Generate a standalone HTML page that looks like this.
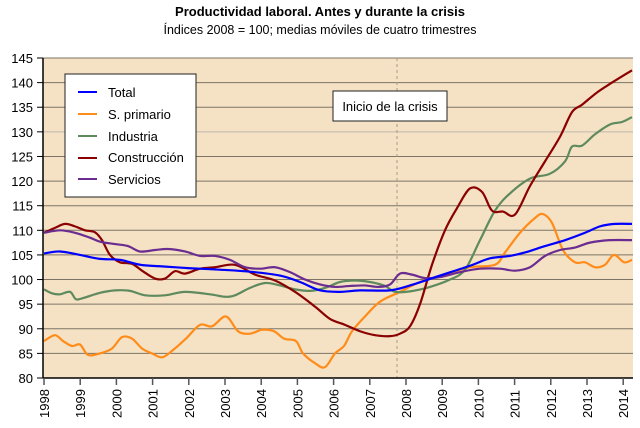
<!DOCTYPE html>
<html><head><meta charset="utf-8"><style>
body{margin:0;background:#fff;width:640px;height:428px;overflow:hidden}
svg{display:block;font-family:"Liberation Sans",Arial,sans-serif}
</style></head><body>
<svg id="s" width="640" height="428" xmlns="http://www.w3.org/2000/svg">
<text x="320" y="16" text-anchor="middle" font-size="13" font-weight="bold">Productividad laboral. Antes y durante la crisis</text>
<text x="320" y="34" text-anchor="middle" font-size="12.5">Índices 2008 = 100; medias móviles de cuatro trimestres</text>
<rect x="43" y="58" width="590" height="320" fill="#f5e2c4"/>
<g id="grid"></g>
<line x1="397" y1="58" x2="397" y2="378" stroke="#a89a88" stroke-dasharray="3,3" stroke-width="1"/>
<g id="lines" fill="none" stroke-width="2.2" stroke-linejoin="round"></g>
<line x1="43" y1="58" x2="43" y2="378" stroke="#000" stroke-width="1.5"/>
<line x1="43" y1="378" x2="633" y2="378" stroke="#000" stroke-width="1.5"/>
<rect x="65" y="74" width="131" height="123" fill="#fff" stroke="#222" stroke-width="1"/>
<g font-size="13">
<line x1="78" y1="92" x2="97" y2="92" stroke="#0000ff" stroke-width="2"/><text x="108" y="97">Total</text>
<line x1="78" y1="114" x2="97" y2="114" stroke="#ff8c1a" stroke-width="2"/><text x="108" y="119">S. primario</text>
<line x1="78" y1="136" x2="97" y2="136" stroke="#5e8a5e" stroke-width="2"/><text x="108" y="141">Industria</text>
<line x1="78" y1="158" x2="97" y2="158" stroke="#8b0000" stroke-width="2"/><text x="108" y="162">Construcción</text>
<line x1="78" y1="179" x2="97" y2="179" stroke="#6a2c91" stroke-width="2"/><text x="108" y="184">Servicios</text>
</g>
<rect x="333" y="91" width="114" height="30" fill="#fff" stroke="#222" stroke-width="1"/>
<text x="390" y="111" text-anchor="middle" font-size="13">Inicio de la crisis</text>
<g id="ax" font-size="13"></g>
</svg>
<script>
var ns="http://www.w3.org/2000/svg";
function Y(v){return 378-(v-80)*320/65;}
function el(p,t,a,txt){var e=document.createElementNS(ns,t);for(var k in a)e.setAttribute(k,a[k]);if(txt)e.textContent=txt;document.getElementById(p).appendChild(e);}
for(var v=80;v<=145;v+=5){var y=Y(v);
 if(v>80)el("grid","line",{x1:43,x2:633,y1:y,y2:y,stroke:v==130?"#bdb6ad":"#7d7466","stroke-width":1});
 el("ax","line",{x1:37,x2:43,y1:y,y2:y,stroke:"#000"});
 el("ax","text",{x:33,y:y+5,"text-anchor":"end"},String(v));}
for(var i=0;i<=16;i++){var x=44+i*36.2;
 el("ax","line",{x1:x,x2:x,y1:378,y2:385,stroke:i%1==0?"#555":"#000","stroke-width":1.5});
 el("ax","text",{x:0,y:0,transform:"translate("+(x+5)+",418) rotate(-90)"},String(1998+i));}
function path(d,c){var p=[];for(var i=0;i<d.length;i+=2)p.push([d[i],Y(d[i+1])]);
 var s="M"+p[0][0]+","+p[0][1];
 for(var i=0;i<p.length-1;i++){var a=p[Math.max(i-1,0)],b=p[i],c2=p[i+1],e=p[Math.min(i+2,p.length-1)];
  s+="C"+(b[0]+(c2[0]-a[0])/6)+","+(b[1]+(c2[1]-a[1])/6)+" "+(c2[0]-(e[0]-b[0])/6)+","+(c2[1]-(e[1]-b[1])/6)+" "+c2[0]+","+c2[1];}
 el("lines","path",{d:s,stroke:c});}
path([44,87.5,55,88.7,63,87.5,72,86.5,80,86.8,88,84.7,100,85,112,86,122,88.3,132,88,142,86,152,85,162,84.2,172,85.5,186,88,200,90.8,212,90.5,226,92.5,238,89.5,250,89,262,89.8,274,89.5,284,88,296,87.5,303,85,315,83,325,82.2,335,85,344,86.5,352,89.5,365,92.5,380,95.5,400,97.5,420,99.5,445,101,470,102.5,495,103,505,105.5,520,109.5,535,112.5,543,113.3,552,111.5,563,106,575,103.5,585,103.5,595,102.5,605,103,614,105,624,103.5,632,104],"#ff8c1a");
path([44,98,52,97.2,60,97,70,97.5,76,96,84,96.3,100,97.3,115,97.8,130,97.7,145,96.8,165,96.8,185,97.5,210,97,225,96.5,235,96.8,250,98.3,265,99.3,280,98.8,295,98,310,97.7,325,98.3,340,99.5,355,99.8,370,99.5,385,98.7,395,97.5,410,97.6,430,98.5,450,100,465,102,480,108,495,114,510,117.5,530,120.5,550,121.5,565,124,572,127,582,127.2,595,129.5,610,131.5,622,132,632,133],"#5e8a5e");
path([44,109.5,55,110.5,65,111.3,75,110.8,85,110,95,109.6,102,108,110,105,120,103.5,132,103.2,142,101.8,155,100.2,165,100.2,175,101.7,185,101.2,200,102.2,215,102.5,235,103,255,101,275,99.8,295,97.5,315,94.5,330,92,345,90.8,360,89.5,375,88.7,390,88.5,400,89,410,90.5,420,95,432,103,445,110,457,114.5,470,118.5,482,117.8,492,114,503,113.8,515,113.2,530,119,545,124,560,129,572,134,582,135.5,597,138,612,140,632,142.5],"#8b0000");
path([44,109.5,60,110,75,109.5,90,108.5,100,107.7,115,107.2,128,106.8,140,105.7,155,106,168,106.2,185,105.7,200,104.8,215,104.8,230,104,245,102.5,260,102.2,275,102.5,290,101.5,305,100,320,99,335,98.5,350,98.7,365,98.8,378,98.5,390,99,400,101.2,412,101,425,100.3,440,100.5,460,101.5,480,102.2,500,102.2,515,101.8,530,102.5,545,104.8,560,106,575,106.5,590,107.5,610,108,632,108],"#6a2c91");
path([44,105.3,60,105.7,80,105,100,104.2,120,104,140,103,160,102.7,190,102.3,220,102,250,101.6,280,100.8,300,99.5,320,97.8,340,97.5,360,97.8,390,97.8,410,98.8,440,100.8,470,102.8,490,104.3,510,104.8,525,105.5,545,106.8,565,108,585,109.5,600,110.8,615,111.3,632,111.3],"#0000ff");
</script>
</body></html>
